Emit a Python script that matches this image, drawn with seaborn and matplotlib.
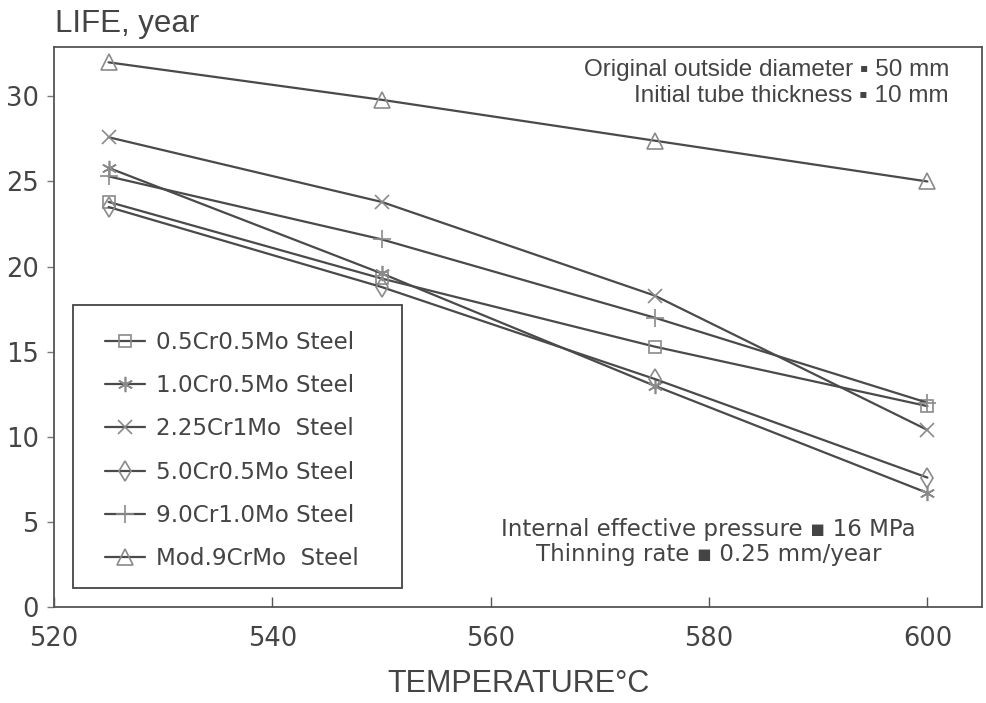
import matplotlib
matplotlib.use("Agg")
import matplotlib.pyplot as plt
from matplotlib.patches import Rectangle
import seaborn as sns
import pandas as pd

# Tube life versus metal temperature for six boiler steels
temperature = [525, 550, 575, 600]

steels = [
    "0.5Cr0.5Mo Steel",
    "1.0Cr0.5Mo Steel",
    "2.25Cr1Mo  Steel",
    "5.0Cr0.5Mo Steel",
    "9.0Cr1.0Mo Steel",
    "Mod.9CrMo  Steel",
]

life_05cr = [23.8, 19.3, 15.3, 11.8]
life_10cr = [25.8, 19.6, 13.0, 6.7]
life_225cr = [27.6, 23.8, 18.3, 10.4]
life_50cr = [23.5, 18.8, 13.4, 7.6]
life_90cr = [25.3, 21.6, 17.0, 12.0]
life_mod9 = [32.0, 29.8, 27.4, 25.0]

life_values = [life_05cr, life_10cr, life_225cr, life_50cr, life_90cr, life_mod9]

records = []
for name, vals in zip(steels, life_values):
    for t, v in zip(temperature, vals):
        records.append({"steel": name, "temperature": t, "life": v})
df = pd.DataFrame(records)

sns.set_theme(style="white")
plt.rcParams["font.family"] = ["DejaVu Sans"]

narrow = ["Liberation Sans Narrow", "Liberation Sans", "DejaVu Sans"]

marker_styles = {
    "0.5Cr0.5Mo Steel": dict(marker="s", ms=9),
    "1.0Cr0.5Mo Steel": dict(marker=(6, 2, 0), ms=11),
    "2.25Cr1Mo  Steel": dict(marker="x", ms=10),
    "5.0Cr0.5Mo Steel": dict(marker="d", ms=10),
    "9.0Cr1.0Mo Steel": dict(marker="+", ms=13),
    "Mod.9CrMo  Steel": dict(marker="^", ms=11),
}

line_col = "#4a4a4a"
mark_col = "#8a8a8a"

fig = plt.figure(figsize=(9.86, 7.03), dpi=100)
ax = fig.add_axes([0.0548, 0.1366, 0.9412, 0.7965])

for name in steels:
    sub = df[df["steel"] == name]
    st = marker_styles[name]
    sns.lineplot(
        data=sub, x="temperature", y="life", ax=ax,
        color=line_col, linewidth=1.6, label=name,
        marker=st["marker"], markersize=st["ms"],
        markerfacecolor="none", markeredgecolor=mark_col,
        markeredgewidth=1.2,
    )

ax.set_xlim(520, 605)
ax.set_ylim(0, 32.9)
ax.set_xticks([520, 540, 560, 580, 600])
ax.set_yticks([0, 5, 10, 15, 20, 25, 30])
ax.tick_params(axis="x", direction="in", length=7, width=1, color="#555",
               labelsize=18.5, labelcolor="#444", pad=14)
ax.tick_params(axis="y", direction="out", length=5, width=1, color="#777",
               labelsize=18.5, labelcolor="#444", pad=6)
ax.tick_params(left=True, bottom=True)

for sp in ax.spines.values():
    sp.set_color("#555")
    sp.set_linewidth(1.3)

ax.set_xlabel("TEMPERATURE°C", family=narrow, fontsize=22, color="#444",
              labelpad=12)
ax.set_ylabel("")
fig.text(0.056, 0.966, "LIFE, year", family=narrow, fontsize=22.5,
         color="#444", ha="left", va="center")

ax.text(0.9645, 0.978,
        "Original outside diameter \u25aa 50 mm\nInitial tube thickness \u25aa 10 mm",
        transform=ax.transAxes, ha="right", va="top", multialignment="right",
        family=narrow + ["DejaVu Sans"], fontsize=17.5, color="#444",
        linespacing=1.2)

ax.text(0.705, 0.116,
        "Internal effective pressure \u25aa 16 MPa\nThinning rate \u25aa 0.25 mm/year",
        transform=ax.transAxes, ha="center", va="center", multialignment="center",
        fontsize=16.5, color="#444", linespacing=1.15)

# legend entries without their own frame; the box is drawn separately
leg = ax.legend(
    loc="center left", bbox_to_anchor=(0.055, 0.2795),
    frameon=False, fontsize=16.6, labelspacing=0.88,
    handlelength=1.75, handletextpad=0.45, borderpad=0, borderaxespad=0,
)
for t in leg.get_texts():
    t.set_color("#444")

ax.add_patch(Rectangle((0.0205, 0.034), 0.3545, 0.505, transform=ax.transAxes,
                       fill=False, edgecolor="#444", linewidth=1.3, zorder=5))

fig.savefig("out.png", dpi=100, facecolor="white")
